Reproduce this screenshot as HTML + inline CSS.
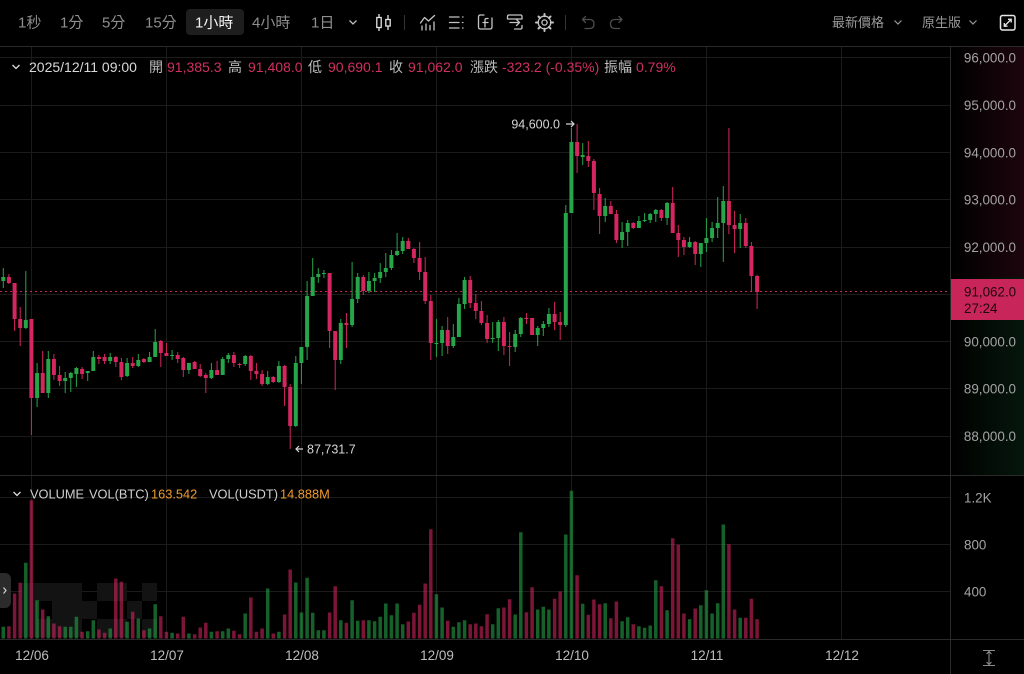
<!DOCTYPE html>
<html><head><meta charset="utf-8"><style>
html,body{margin:0;padding:0;background:#000;width:1024px;height:674px;overflow:hidden}
svg{display:block}
text{font-family:"Liberation Sans","Noto Sans CJK TC",sans-serif}
</style></head><body>
<svg width="1024" height="674" viewBox="0 0 1024 674" xmlns="http://www.w3.org/2000/svg">
<defs>
<linearGradient id="gr" x1="0" y1="0" x2="1" y2="0"><stop offset="0" stop-color="#3a0a1a" stop-opacity="0"/><stop offset="1" stop-color="#3a0a1a" stop-opacity="0.5"/></linearGradient>
<linearGradient id="gg" x1="0" y1="0" x2="1" y2="0"><stop offset="0" stop-color="#0a2a16" stop-opacity="0"/><stop offset="1" stop-color="#0a2a16" stop-opacity="0.55"/></linearGradient>
</defs>
<rect width="1024" height="674" fill="#000"/>
<rect x="951" y="47" width="73" height="230" fill="url(#gr)"/>
<rect x="951" y="277" width="73" height="198" fill="url(#gg)"/>
<!-- grid -->
<g stroke="#1b1b1b" stroke-width="1">
<path d="M0 57.5H950M0 105.5H950M0 152.5H950M0 199.5H950M0 247.5H950M0 294.5H950M0 341.5H950M0 388.5H950M0 436.5H950M0 497.5H950M0 544.5H950M0 591.5H950"/>
<path d="M31.5 47V639M166.5 47V639M301.5 47V639M436.5 47V639M571.5 47V639M706.5 47V639M841.5 47V639"/>
</g>
<g stroke="#2a2a2a" stroke-width="1">
<path d="M0 46.5H1024M0 475.5H1024M0 639.5H1024M950.5 47V674"/>
</g>
<!-- watermark -->
<g fill="#131313">
<rect x="22" y="583" width="45" height="18"/><rect x="22" y="601" width="15" height="18"/><rect x="52" y="601" width="15" height="18"/><rect x="22" y="619" width="45" height="18"/>
<rect x="67" y="583" width="15" height="54"/><rect x="82" y="601" width="15" height="18"/><rect x="97" y="583" width="15" height="18"/><rect x="97" y="619" width="15" height="18"/>
<rect x="112" y="583" width="15" height="18"/><rect x="142" y="583" width="15" height="18"/><rect x="127" y="601" width="15" height="18"/><rect x="112" y="619" width="15" height="18"/><rect x="142" y="619" width="15" height="18"/>
</g>
<!-- volume bars -->
<g stroke-width="3.5" opacity="0.58">
<path stroke="#26a649" d="M3.3 638.5V626.8M25.8 638.5V562.8M37.1 638.5V600.2M48.3 638.5V616.2M65.2 638.5V626.8M70.8 638.5V626.8M76.4 638.5V616.8M87.7 638.5V631.2M93.3 638.5V620.2M110.2 638.5V628.5M127.1 638.5V621.8M138.3 638.5V618.5M149.6 638.5V628.5M155.2 638.5V604.2M172.1 638.5V632.8M188.9 638.5V633.5M211.4 638.5V631.8M222.7 638.5V631.2M228.3 638.5V628.5M245.2 638.5V613.5M267.7 638.5V588.5M278.9 638.5V631.8M295.8 638.5V582.5M301.4 638.5V612.5M307.1 638.5V577.8M312.7 638.5V612.8M318.3 638.5V630.2M323.9 638.5V630.2M340.8 638.5V620.2M352.1 638.5V600.2M357.7 638.5V620.8M368.9 638.5V620.2M374.6 638.5V621.2M380.2 638.5V616.8M385.8 638.5V603.5M391.4 638.5V615.2M397.1 638.5V603.5M402.7 638.5V624.2M436.4 638.5V594.2M442.1 638.5V607.5M453.3 638.5V626.8M458.9 638.5V622.2M464.6 638.5V620.2M492.7 638.5V624.2M498.3 638.5V608.2M515.2 638.5V614.5M520.8 638.5V532.2M537.7 638.5V609.5M543.3 638.5V606.8M548.9 638.5V609.5M565.8 638.5V534.5M571.4 638.5V490.8M582.7 638.5V603.8M605.2 638.5V603.2M622.1 638.5V621.2M627.7 638.5V617.2M638.9 638.5V626.2M644.6 638.5V627.8M650.2 638.5V625.5M655.8 638.5V580.2M667.1 638.5V610.2M689.6 638.5V619.2M700.8 638.5V605.2M706.4 638.5V590.2M712.1 638.5V613.5M717.7 638.5V603.2M723.3 638.5V524.5M740.2 638.5V617.8"/>
<path stroke="#d4265f" d="M8.9 638.5V626.2M14.6 638.5V593.5M20.2 638.5V582.8M31.4 638.5V500.2M42.7 638.5V609.5M53.9 638.5V623.5M59.6 638.5V626.2M82.1 638.5V631.8M98.9 638.5V629.5M104.6 638.5V632.8M115.8 638.5V578.5M121.4 638.5V581.8M132.7 638.5V611.8M143.9 638.5V630.2M160.8 638.5V616.2M166.4 638.5V631.8M177.7 638.5V633.5M183.3 638.5V616.8M194.6 638.5V634.2M200.2 638.5V627.5M205.8 638.5V622.8M217.1 638.5V631.2M233.9 638.5V630.8M239.6 638.5V634.2M250.8 638.5V597.5M256.4 638.5V631.8M262.1 638.5V628.5M273.3 638.5V633.5M284.6 638.5V614.5M290.2 638.5V569.5M329.6 638.5V612.5M335.2 638.5V586.2M346.4 638.5V622.8M363.3 638.5V620.2M408.3 638.5V621.5M413.9 638.5V612.8M419.6 638.5V604.8M425.2 638.5V583.5M430.8 638.5V529.2M447.7 638.5V620.8M470.2 638.5V624.2M475.8 638.5V623.5M481.4 638.5V626.2M487.1 638.5V614.2M503.9 638.5V607.5M509.6 638.5V599.2M526.4 638.5V612.2M532.1 638.5V587.2M554.6 638.5V598.8M560.2 638.5V591.5M577.1 638.5V575.2M588.3 638.5V614.8M593.9 638.5V599.5M599.6 638.5V604.2M610.8 638.5V618.2M616.4 638.5V601.5M633.3 638.5V624.2M661.4 638.5V586.2M672.7 638.5V538.2M678.3 638.5V544.8M683.9 638.5V613.5M695.2 638.5V608.5M728.9 638.5V544.2M734.6 638.5V609.5M745.8 638.5V617.8M751.4 638.5V598.8M757.1 638.5V619.2"/>
</g>
<!-- current price dotted line -->
<path d="M0 291.5H950" stroke="#c8255a" stroke-width="1" stroke-dasharray="2 3"/>
<!-- candles -->
<g stroke="#26a649" fill="none">
<path stroke-width="1" d="M3.3 268V288M25.8 271V329M37.1 363V407M48.3 351V398M65.2 372V393M70.8 372V392M76.4 367V387M87.7 371V381M93.3 351V371M110.2 353V364M127.1 358V377M138.3 354V367M149.6 352V362M155.2 329V357M172.1 350V360M188.9 363V374M211.4 363V379M222.7 357V375M228.3 353V363M245.2 355V366M267.7 371V385M278.9 361V383M295.8 356V427M301.4 347V384M307.1 281V360M312.7 258V296M318.3 268V283M323.9 270V278M340.8 319V364M352.1 262V327M357.7 273V303M368.9 272V293M374.6 273V292M380.2 263V283M385.8 253V277M391.4 250V270M397.1 233V256M402.7 237V254M436.4 319V357M442.1 326V356M453.3 324V348M458.9 298V337M464.6 277V309M492.7 322V343M498.3 320V351M515.2 330V352M520.8 317V337M537.7 326V346M543.3 321V336M548.9 308V327M565.8 205V327M571.4 128V213M582.7 143V165M605.2 198V222M622.1 222V248M627.7 220V246M638.9 216V228M644.6 213V222M650.2 213V223M655.8 209V222M667.1 202V225M689.6 237V248M700.8 243V267M706.4 218V252M712.1 222V242M717.7 197V238M723.3 186V262M740.2 214V248"/>
<path stroke-width="4" d="M3.3 277V281M25.8 320V328M37.1 373V398M48.3 359V393M65.2 378V381M70.8 373V378M76.4 368V374M87.7 371V373M93.3 357V371M110.2 357V361M127.1 363V376M138.3 360V366M149.6 357V362M155.2 342V357M172.1 355V356M188.9 363V370M211.4 370V378M222.7 359V375M228.3 355V359M245.2 356V364M267.7 377V384M278.9 366V382M295.8 363V426M301.4 347V363M307.1 296V347M312.7 277V296M318.3 274V277M323.9 273V274M340.8 323V360M352.1 299V325M357.7 277V299M368.9 281V291M374.6 278V281M380.2 272V278M385.8 268V272M391.4 255V268M397.1 251V255M402.7 241V251M436.4 343V344M442.1 330V343M453.3 337V346M458.9 304V337M464.6 280V304M492.7 338V339M498.3 322V338M515.2 334V347M520.8 318V334M537.7 328V335M543.3 324V328M548.9 314V324M565.8 213V325M571.4 142V213M582.7 155V157M605.2 206V216M622.1 232V240M627.7 223V232M638.9 221V228M644.6 220V221M650.2 214V220M655.8 210V214M667.1 203V218M689.6 242V247M700.8 243V254M706.4 238V243M712.1 228V238M717.7 223V228M723.3 201V223M740.2 223V229"/>
</g>
<g stroke="#d4265f" fill="none">
<path stroke-width="1" d="M8.9 274V284M14.6 283V331M20.2 307V346M31.4 319V435M42.7 351V393M53.9 354V380M59.6 366V386M82.1 367V379M98.9 355V364M104.6 354V364M115.8 356V367M121.4 358V380M132.7 357V368M143.9 358V363M160.8 340V367M166.4 343V356M177.7 352V363M183.3 357V377M194.6 361V369M200.2 364V377M205.8 373V393M217.1 361V375M233.9 352V367M239.6 363V368M250.8 355V380M256.4 363V379M262.1 370V386M273.3 376V383M284.6 365V406M290.2 384V449M329.6 273V348M335.2 331V390M346.4 313V348M363.3 275V295M408.3 238V249M413.9 248V263M419.6 242V280M425.2 257V304M430.8 295V360M447.7 317V354M470.2 276V308M475.8 294V319M481.4 301V325M487.1 315V343M503.9 317V355M509.6 332V366M526.4 313V324M532.1 318V335M554.6 302V330M560.2 312V340M577.1 124V173M588.3 141V167M593.9 159V210M599.6 188V234M610.8 201V214M616.4 210V243M633.3 222V229M661.4 209V221M672.7 187V233M678.3 225V257M683.9 237V255M695.2 241V265M728.9 128V234M734.6 211V253M745.8 218V248M751.4 242V292M757.1 275V309"/>
<path stroke-width="4" d="M8.9 277V283M14.6 283V319M20.2 319V328M31.4 319V398M42.7 373V393M53.9 359V375M59.6 375V381M82.1 369V374M98.9 357V359M104.6 357V361M115.8 357V362M121.4 362V377M132.7 363V366M143.9 359V362M160.8 341V353M166.4 353V356M177.7 355V359M183.3 358V370M194.6 362V369M200.2 369V376M205.8 375V378M217.1 370V375M233.9 355V363M239.6 364V365M250.8 356V371M256.4 371V374M262.1 374V384M273.3 377V382M284.6 366V387M290.2 387V426M329.6 273V331M335.2 331V360M346.4 323V325M363.3 277V291M408.3 241V249M413.9 249V258M419.6 258V272M425.2 272V301M430.8 301V343M447.7 330V346M470.2 280V303M475.8 303V311M481.4 311V323M487.1 323V339M503.9 322V346M509.6 346V347M526.4 318V319M532.1 318V335M554.6 314V322M560.2 322V325M577.1 142V156M588.3 156V161M593.9 161V193M599.6 194V216M610.8 206V214M616.4 214V240M633.3 223V228M661.4 210V218M672.7 203V233M678.3 233V240M683.9 240V247M695.2 242V254M728.9 201V225M734.6 225V229M745.8 223V246M751.4 246V276M757.1 276V292"/>
</g>
<!-- high / low labels -->
<text x="560" y="128.5" font-size="12.5" fill="#d6d6d6" text-anchor="end">94,600.0</text>
<path d="M566 124H574M571 121L574 124L571 127" stroke="#d6d6d6" stroke-width="1.2" fill="none"/>
<path d="M303 449H296M299 446L296 449L299 452" stroke="#d6d6d6" stroke-width="1.2" fill="none"/>
<text x="307" y="453.5" font-size="12.5" fill="#d6d6d6">87,731.7</text>
<!-- price axis labels -->
<g font-size="13.4" fill="#a3a3a3" text-anchor="end">
<text x="1016" y="62.5">96,000.0</text>
<text x="1016" y="110">95,000.0</text>
<text x="1016" y="157.3">94,000.0</text>
<text x="1016" y="204.6">93,000.0</text>
<text x="1016" y="251.9">92,000.0</text>
<text x="1016" y="346.5">90,000.0</text>
<text x="1016" y="393.5">89,000.0</text>
<text x="1016" y="441">88,000.0</text>
<text x="964" y="502.3" text-anchor="start">1.2K</text>
<text x="964" y="549.3" text-anchor="start">800</text>
<text x="964" y="596.3" text-anchor="start">400</text>
</g>
<rect x="951" y="279" width="73" height="41" fill="#c8255a"/>
<text x="964" y="296.5" font-size="13.4" fill="#1f0710">91,062.0</text>
<text x="964" y="313" font-size="13.4" fill="#1f0710">27:24</text>
<!-- x axis labels -->
<g font-size="13.5" fill="#bdbdbd" text-anchor="middle">
<text x="32" y="660">12/06</text><text x="167" y="660">12/07</text><text x="302" y="660">12/08</text><text x="437" y="660">12/09</text><text x="572" y="660">12/10</text><text x="707" y="660">12/11</text><text x="842" y="660">12/12</text>
</g>
<path d="M983 650.5H995M983 665.5H995M989 651V665M986.5 654L989 651.5L991.5 654M986.5 662L989 664.5L991.5 662" stroke="#8a8a8a" stroke-width="1.1" fill="none"/>
<!-- left handle -->
<rect x="-6" y="573" width="17" height="35" rx="6" fill="#2b2b2b"/>
<path d="M3.5 587.5L6 590.5L3.5 593.5" stroke="#d0d0d0" stroke-width="1.2" fill="none"/>
<!-- toolbar -->
<rect x="186" y="9" width="58" height="26" rx="4" fill="#1e1e1e"/>
<g font-size="15" fill="#8e8e8e">
<text x="18" y="27.5">1秒</text>
<text x="60" y="27.5">1分</text>
<text x="102" y="27.5">5分</text>
<text x="145" y="27.5">15分</text>
<text x="195" y="27.5" fill="#f2f2f2">1小時</text>
<text x="252" y="27.5">4小時</text>
<text x="311" y="27.5">1日</text>
</g>
<path d="M349.5 20.5L353 24L356.5 20.5" stroke="#bdbdbd" stroke-width="1.3" fill="none"/>
<g stroke="#e4e4e4" stroke-width="1.3" fill="none">
<path d="M379 14V31M388 15V30"/>
<rect x="376.8" y="17.5" width="4.4" height="10" fill="#000"/>
<rect x="385.8" y="19.5" width="4.4" height="6.5" fill="#000"/>
</g>
<path d="M404.5 15V30M565.5 15V30" stroke="#333" stroke-width="1"/>
<g stroke="#c4c4c4" stroke-width="1.3" fill="none" stroke-linecap="round" stroke-linejoin="round">
<path d="M420.5 23L424.5 17.5L428.5 21L434.5 15.5"/>
<path d="M422 26V30M426 24V30M430 25.5V30M434 22V30"/>
<path d="M449.5 17H459M449.5 22.5H459M449.5 28H459M462.5 17H463M462.5 22.5H463M462.5 28H463"/>
<path d="M484 15H480.5Q478.5 15 478.5 17V27Q478.5 29 480.5 29H490Q492 29 492 27V18"/>
<path d="M488 18.5H486.5Q485 18.5 485 20V27M483 22.5H488"/>
<path d="M507.5 19V16.5Q507.5 15 509 15H520.5Q522 15 522 16.5V19M507.5 19H522M510 22.5H519.5M516.5 19.5L519.5 22.5L516.5 25.5M514.5 29H520.5Q522 29 522 27.5V25.5"/>
<circle cx="544.5" cy="22.5" r="2.6"/>
<circle cx="544.5" cy="22.5" r="6.3"/>
<path d="M544.5 14V16.2M544.5 28.8V31M536 22.5H538.2M550.8 22.5H553M538.5 16.5L540 18M549 27L550.5 28.5M550.5 16.5L549 18M540 27L538.5 28.5" stroke-width="2"/>
</g>
<g stroke="#4d4d4d" stroke-width="1.3" fill="none" stroke-linecap="round" stroke-linejoin="round">
<path d="M583 19.5H589.5Q594 19.5 594 24Q594 28.5 589.5 28.5H585M585.5 16.5L582.5 19.5L585.5 22.5"/>
<path d="M621.5 19.5H615Q610.5 19.5 610.5 24Q610.5 28.5 615 28.5H619.5M619 16.5L622 19.5L619 22.5"/>
</g>
<g font-size="13" fill="#9a9a9a">
<text x="832" y="27">最新價格</text>
<text x="922" y="27">原生版</text>
</g>
<path d="M894.5 20.5L898 24L901.5 20.5M969.5 20.5L973 24L976.5 20.5" stroke="#9a9a9a" stroke-width="1.2" fill="none"/>
<rect x="1000.5" y="15.5" width="14.5" height="14.5" rx="2" stroke="#e6e6e6" stroke-width="1.5" fill="none"/>
<path d="M1004.5 26L1011 19.5M1008 19.3H1011.2V22.5M1004.3 23V26.2H1007.5" stroke="#e6e6e6" stroke-width="1.3" fill="none"/>
<!-- info row -->
<path d="M12.5 65L16 68.5L19.5 65" stroke="#dcdcdc" stroke-width="1.3" fill="none"/>
<g font-size="14">
<text x="29" y="72" fill="#d8d8d8">2025/12/11 09:00</text>
<text x="149" y="72" fill="#bdbdbd">開</text>
<text x="167" y="72" fill="#d03060">91,385.3</text>
<text x="228" y="72" fill="#bdbdbd">高</text>
<text x="248" y="72" fill="#d03060">91,408.0</text>
<text x="308" y="72" fill="#bdbdbd">低</text>
<text x="328" y="72" fill="#d03060">90,690.1</text>
<text x="389" y="72" fill="#bdbdbd">收</text>
<text x="408" y="72" fill="#d03060">91,062.0</text>
<text x="470" y="72" fill="#bdbdbd">漲跌</text>
<text x="502" y="72" fill="#d03060">-323.2 (-0.35%)</text>
<text x="604" y="72" fill="#bdbdbd">振幅</text>
<text x="636" y="72" fill="#d03060">0.79%</text>
</g>
<!-- volume legend -->
<path d="M13.5 492L17 495.5L20.5 492" stroke="#dcdcdc" stroke-width="1.3" fill="none"/>
<g font-size="12.8">
<text x="30" y="498.5" fill="#cfcfcf">VOLUME</text>
<text x="89" y="498.5" fill="#cfcfcf">VOL(BTC)</text>
<text x="151" y="498.5" fill="#ee9a2e">163.542</text>
<text x="209" y="498.5" fill="#cfcfcf">VOL(USDT)</text>
<text x="280" y="498.5" fill="#ee9a2e">14.888M</text>
</g>
</svg>
</body></html>
